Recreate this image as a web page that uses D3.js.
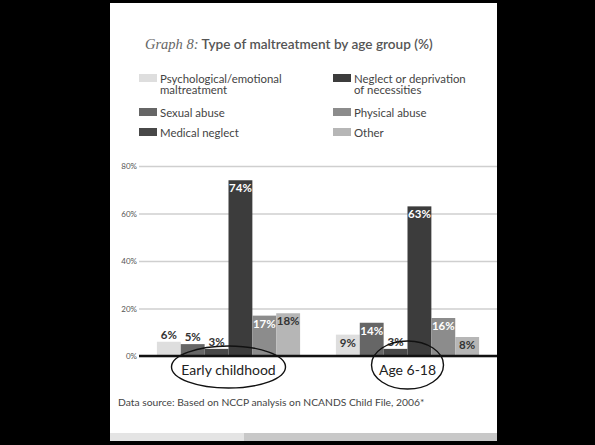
<!DOCTYPE html>
<html>
<head>
<meta charset="utf-8">
<script src="https://cdn.jsdelivr.net/npm/d3@7"></script>
<style>
  body { margin: 0; background: #000; }
  svg { display: block; }
  text { font-family: 'Lato', 'Noto Sans', sans-serif; }
</style>
</head>
<body>
<div id="chart"></div>
<script>
// data
const groups = ['Early childhood', 'Age 6-18'];
const series = ['Psychological/emotional maltreatment', 'Sexual abuse', 'Medical neglect',
                'Neglect or deprivation of necessities', 'Physical abuse', 'Other'];
const earlyValues = [6, 5, 3, 74, 17, 18];
const olderValues = [9, 14, 3, 63, 16, 8];
const yTicks = [0, 20, 40, 60, 80];

const colors = ['#dedede', '#666666', '#484848', '#3c3c3c', '#8c8c8c', '#b6b6b6'];
const labelInk = ['#333', '#fff', '#333', '#fff', '#fff', '#333'];

const rows = [];
groups.forEach((g, gi) => {
    const vals = gi === 0 ? earlyValues : olderValues;
    series.forEach((s, si) => rows.push({ group: g, series: s, idx: si, value: vals[si] }));
});

const width = 595, height = 445;
const svg = d3.select('#chart').append('svg')
    .attr('width', width)
    .attr('height', height);

// white page + grey strip at the bottom
svg.append('rect').attr('x', 110).attr('y', 3).attr('width', 387).attr('height', 438).attr('fill', '#fff');
svg.append('rect').attr('x', 110).attr('y', 433).attr('width', 134).attr('height', 8).attr('fill', '#e4e4e4');
svg.append('rect').attr('x', 244).attr('y', 433).attr('width', 253).attr('height', 8).attr('fill', '#c8c8c8');

// title
const title = svg.append('text').attr('x', 145).attr('y', 49).style('font-size', '13.6px');
title.append('tspan').text('Graph 8:')
    .style('font-family', "'Liberation Serif', serif").style('font-style', 'italic')
    .style('font-size', '14.5px').attr('fill', '#666');
title.append('tspan').text(' Type of maltreatment by age group (%)')
    .attr('fill', '#555').style('font-weight', 600);

// legend
const legendItems = [
    { i: 0, x: 139, y: 74, lines: ['Psychological/emotional', 'maltreatment'] },
    { i: 1, x: 139, y: 108, lines: ['Sexual abuse'] },
    { i: 2, x: 139, y: 128, lines: ['Medical neglect'] },
    { i: 3, x: 333, y: 74, lines: ['Neglect or deprivation', 'of necessities'] },
    { i: 4, x: 333, y: 108, lines: ['Physical abuse'] },
    { i: 5, x: 333, y: 128, lines: ['Other'] }
];
const legend = svg.append('g').selectAll('g').data(legendItems).join('g')
    .attr('transform', d => `translate(${d.x}, ${d.y})`);
legend.append('rect').attr('width', 18).attr('height', 8).attr('fill', d => colors[d.i]);
// one text per line so the wrapped entries stay tight like the print
legend.selectAll('text').data(d => d.lines).join('text')
    .attr('x', 21)
    .attr('y', (d, k) => 9 + k * 11)
    .attr('fill', '#444')
    .style('font-size', '11.4px')
    .text(d => d);

// scales
const scaleX = d3.scaleBand(groups, [139, 497]).paddingInner(0.2).paddingOuter(0.1);
const scaleS = d3.scaleBand(series, [0, scaleX.bandwidth()]);
const scaleY = d3.scaleLinear([0, 80], [356, 166]);

// grid + y labels
const axisY = d3.axisLeft(scaleY).tickValues(yTicks).tickFormat(d => d + '%').tickSize(-(497 - 139)).tickPadding(2);
const gy = svg.append('g').attr('transform', 'translate(139, 0)').call(axisY);
gy.select('.domain').remove();
gy.selectAll('.tick line').attr('stroke', '#cfcfcf').attr('stroke-width', 1.3);
gy.selectAll('.tick text').attr('fill', '#555').style('font-size', '8px').style('font-family', "'Lato', sans-serif");

// bars
const chart = svg.append('g');
chart.selectAll('rect.bar').data(rows).join('rect')
    .classed('bar', true)
    .attr('x', d => scaleX(d.group) + scaleS(d.series))
    .attr('y', d => scaleY(d.value))
    .attr('width', scaleS.bandwidth())
    .attr('height', d => scaleY(0) - scaleY(d.value))
    .attr('fill', d => colors[d.idx]);

// value labels: inside the bar when it is tall enough, else on top
chart.selectAll('text.val').data(rows).join('text')
    .classed('val', true)
    .attr('x', d => scaleX(d.group) + scaleS(d.series) + scaleS.bandwidth() / 2)
    .attr('y', d => d.value >= 8 ? scaleY(d.value) + 12 : scaleY(d.value) - 3)
    .attr('text-anchor', 'middle')
    .attr('fill', d => d.value >= 8 ? labelInk[d.idx] : '#333')
    .style('font-size', '11.5px')
    .style('font-weight', 700)
    .text(d => d.value + '%');

// baseline
svg.append('line')
    .attr('x1', 139).attr('x2', 497)
    .attr('y1', scaleY(0)).attr('y2', scaleY(0))
    .attr('stroke', '#111').attr('stroke-width', 2.5);

// group labels
svg.append('g').selectAll('text').data(groups).join('text')
    .attr('x', d => scaleX(d) + scaleX.bandwidth() / 2)
    .attr('y', 375)
    .attr('text-anchor', 'middle')
    .attr('fill', '#222')
    .style('font-size', '14px')
    .text(d => d);

// hand-drawn ovals around group labels
const ovals = [{ group: groups[0], cy: 367, rx: 57, ry: 21 }, { group: groups[1], cy: 365, rx: 36, ry: 24 }];
svg.append('g').selectAll('ellipse').data(ovals).join('ellipse')
    .attr('cx', d => scaleX(d.group) + scaleX.bandwidth() / 2)
    .attr('cy', d => d.cy)
    .attr('rx', d => d.rx).attr('ry', d => d.ry)
    .attr('fill', 'none').attr('stroke', '#111').attr('stroke-width', 1.4);

// source
svg.append('text')
    .attr('x', 118).attr('y', 406)
    .attr('fill', '#444')
    .style('font-size', '10.3px')
    .text('Data source: Based on NCCP analysis on NCANDS Child File, 2006*');
</script>
</body>
</html>
